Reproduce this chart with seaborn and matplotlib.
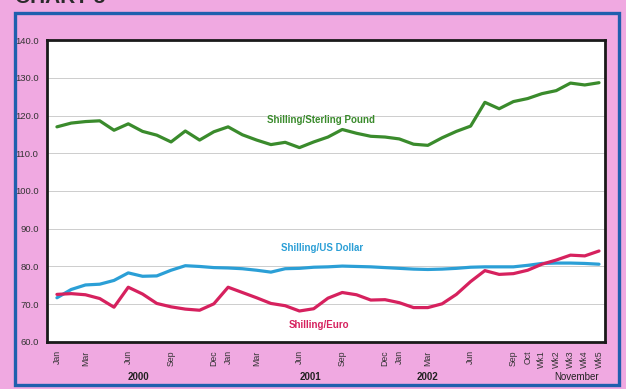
import matplotlib
matplotlib.use("Agg")
import matplotlib.pyplot as plt
from matplotlib.patches import Rectangle
import pandas as pd
import seaborn as sns

# Period labels: monthly Jan 2000 - Oct 2002, then weekly in November 2002
periods = [
    "Jan-00", "Feb-00", "Mar-00", "Apr-00", "May-00", "Jun-00", "Jul-00", "Aug-00",
    "Sep-00", "Oct-00", "Nov-00", "Dec-00",
    "Jan-01", "Feb-01", "Mar-01", "Apr-01", "May-01", "Jun-01", "Jul-01", "Aug-01",
    "Sep-01", "Oct-01", "Nov-01", "Dec-01",
    "Jan-02", "Feb-02", "Mar-02", "Apr-02", "May-02", "Jun-02", "Jul-02", "Aug-02",
    "Sep-02", "Oct-02",
    "Wk1", "Wk2", "Wk3", "Wk4", "Wk5",
]

sterling = [
    117.0, 118.0, 118.4, 118.6, 116.1, 117.8, 115.8, 114.8, 113.0, 115.9, 113.5, 115.7,
    117.0, 114.9, 113.5, 112.3, 112.9, 111.5, 113.0, 114.3, 116.3, 115.3, 114.5, 114.3,
    113.8, 112.4, 112.1, 114.1, 115.8, 117.2, 123.5, 121.8, 123.7, 124.5,
    125.8, 126.6, 128.6, 128.1, 128.7,
]
us_dollar = [
    71.7, 73.9, 75.1, 75.3, 76.3, 78.3, 77.4, 77.5, 79.0, 80.2, 80.0, 79.7,
    79.6, 79.4, 79.0, 78.5, 79.4, 79.5, 79.8, 79.9, 80.1, 80.0, 79.9, 79.7,
    79.5, 79.3, 79.2, 79.3, 79.5, 79.8, 79.9, 79.9, 79.9, 80.3,
    80.8, 80.9, 80.9, 80.8, 80.6,
]
euro = [
    72.6, 72.8, 72.5, 71.5, 69.2, 74.5, 72.7, 70.2, 69.3, 68.7, 68.4, 70.1,
    74.5, 73.1, 71.7, 70.2, 69.6, 68.2, 68.8, 71.6, 73.1, 72.5, 71.1, 71.2,
    70.4, 69.1, 69.1, 70.1, 72.6, 76.0, 78.9, 77.9, 78.1, 79.0,
    80.6, 81.7, 83.0, 82.8, 84.1,
]

series_names = ["Shilling/Sterling Pound", "Shilling/US Dollar", "Shilling/Euro"]
series_colors = ["#3a8b2c", "#2b9fd6", "#d6215e"]

# Ticks that carry a label on the category axis
tick_positions = [0, 2, 5, 8, 11, 12, 14, 17, 20, 23, 24, 26, 29, 32, 33, 34, 35, 36, 37, 38]
tick_labels = ["Jan", "Mar", "Jun", "Sep", "Dec", "Jan", "Mar", "Jun", "Sep", "Dec",
               "Jan", "Mar", "Jun", "Sep", "Oct", "Wk1", "Wk2", "Wk3", "Wk4", "Wk5"]
group_labels = ["2000", "2001", "2002", "November"]
group_centers = [5.7, 17.8, 26.0, 36.4]

y_ticks = [60, 70, 80, 90, 100, 110, 120, 130, 140]

frame = pd.DataFrame({
    "idx": list(range(len(periods))) * 3,
    "rate": sterling + us_dollar + euro,
    "series": [series_names[0]] * len(periods)
              + [series_names[1]] * len(periods)
              + [series_names[2]] * len(periods),
})

sns.set_style("white")
plt.rcParams["font.family"] = ["Liberation Sans", "DejaVu Sans"]

pink = "#f0a9e1"
fig = plt.figure(figsize=(6.26, 3.89), dpi=100, facecolor=pink)
ax = fig.add_axes([0.075, 0.121, 0.891, 0.776])
ax.set_facecolor("white")

sns.lineplot(data=frame, x="idx", y="rate", hue="series", palette=series_colors,
             hue_order=series_names, linewidth=2.3, legend=False, ax=ax)

ax.set_xlim(-0.7, 38.4)
ax.set_ylim(60, 140)
ax.set_yticks(y_ticks)
ax.set_yticklabels([f"{v:.1f}" for v in y_ticks], fontsize=6.8, color="#333333")
ax.set_xticks(tick_positions)
ax.set_xticklabels(tick_labels, rotation=90, fontsize=6.3, color="#333333")
ax.tick_params(axis="both", length=0, pad=6)
ax.set_xlabel("")
ax.set_ylabel("")
ax.grid(axis="y", color="#cdcdcd", linewidth=0.7)
ax.set_axisbelow(True)
for side in ["left", "bottom", "top", "right"]:
    ax.spines[side].set_visible(True)
    ax.spines[side].set_color("#1a1a1a")
    ax.spines[side].set_linewidth(2.0)

# Series captions placed beside each line
caption_pos = [(18.5, 118.7), (18.6, 84.8), (18.4, 64.6)]
for name, color, (cx, cy) in zip(series_names, series_colors, caption_pos):
    ax.text(cx, cy, name, color=color, fontsize=7, fontweight="bold",
            ha="center", va="center")

# Year / month group captions under the tick labels
for label, cx in zip(group_labels, group_centers):
    ax.annotate(label, xy=(cx, 0), xycoords=("data", "axes fraction"),
                xytext=(0, -25), textcoords="offset points",
                ha="center", va="center", fontsize=7,
                fontweight="normal" if label == "November" else "bold",
                color="#222222", annotation_clip=False)

# Blue outer frame around the chart panel
fig.patches.append(Rectangle((0.024, 0.010), 0.965, 0.957, transform=fig.transFigure,
                             fill=False, edgecolor="#1f5fae", linewidth=2.4))
fig.text(0.024, 1.0065, "CHART 5", fontsize=15, fontweight="bold", color="#2a2a2a",
         ha="left", va="center")

fig.savefig("out.png", dpi=100, facecolor=pink)
